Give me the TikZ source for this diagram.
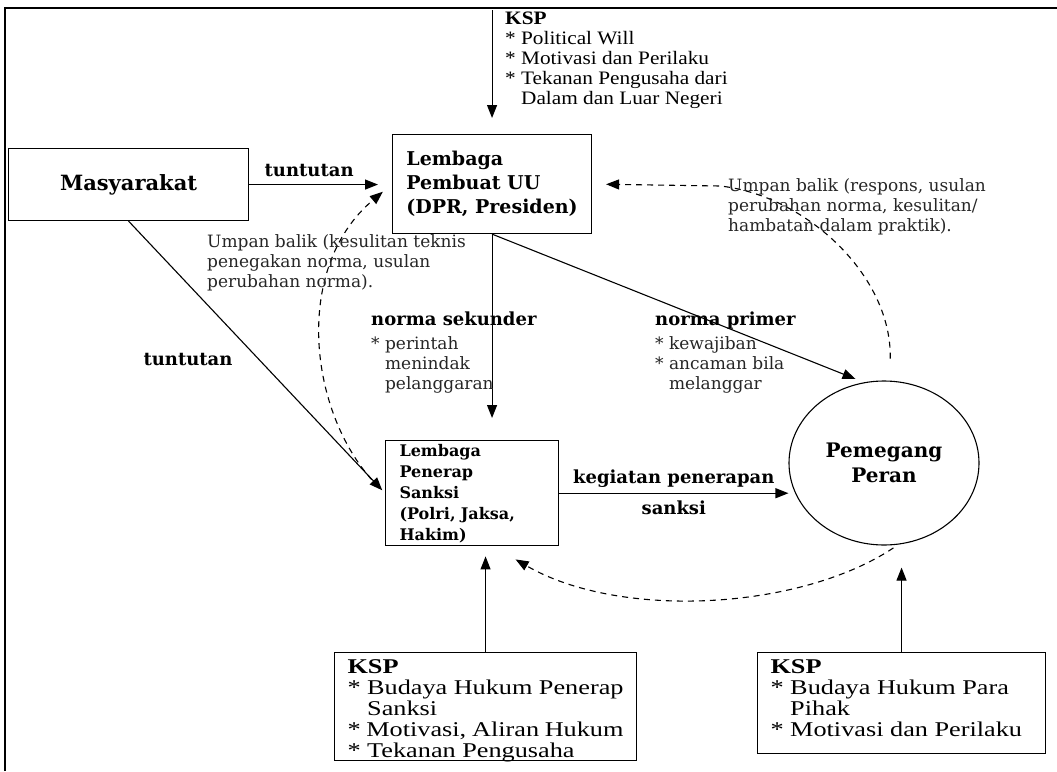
\documentclass[tikz,border=0pt]{standalone}
\usepackage{fontspec}
\setmainfont{Liberation Serif}[FakeStretch=1.12]
\newfontfamily\kotakfont{Liberation Serif}[FakeStretch=1.25]
\newfontfamily\labelfont{DejaVu Serif}
\usetikzlibrary{arrows.meta,calc,shapes.geometric}

\begin{document}
\begin{tikzpicture}[x=1pt,y=-1pt,
  kotak/.style={draw,line width=1.1pt},
  panah/.style={-{Triangle[length=13pt,width=10pt]},line width=1.1pt},
  balik/.style={-{Triangle[length=13pt,width=10pt]},line width=1.1pt,dash pattern=on 6pt off 5pt},
  judul/.style={font=\labelfont\bfseries\fontsize{18}{21}\selectfont,inner sep=0pt},
  ket/.style={font=\labelfont\fontsize{17}{20}\selectfont,align=left,inner sep=0pt,text=black!85},
  daftar/.style={font=\fontsize{19}{20}\selectfont,align=left,inner sep=0pt}]

\useasboundingbox (0,0) rectangle (1057,771);
% bingkai
\draw[line width=1.6pt] (5,771) -- (5,8) -- (1057,8);

% lembaga dan pihak
\node[kotak,minimum width=240pt,minimum height=72pt,anchor=north west,
  font=\labelfont\bfseries\fontsize{21}{24}\selectfont] (masyarakat) at (8,148) {Masyarakat};
\node[kotak,minimum width=199pt,minimum height=99pt,anchor=north west,align=left,
  font=\labelfont\bfseries\fontsize{19}{24}\selectfont] (pembuat) at (392,134) {Lembaga\\Pembuat UU\\(DPR, Presiden)};
\node[kotak,text width=145pt,inner xsep=14pt,minimum height=100pt,anchor=north west,align=left,
  font=\labelfont\bfseries\fontsize{16}{21}\selectfont] (penerap) at (385,440) {Lembaga\\Penerap\\Sanksi\\(Polri, Jaksa,\\Hakim)};
\node[draw,ellipse,line width=1.1pt,minimum width=190pt,minimum height=164pt,inner sep=0pt,align=center,
  font=\labelfont\bfseries\fontsize{20}{25}\selectfont] (pemegang) at (884,463) {Pemegang\\Peran};

% KSP
\node[daftar,anchor=north west] (ksppembuat) at (505,12) {\textbf{KSP}\\{*} Political Will\\{*} Motivasi dan Perilaku\\{*} Tekanan Pengusaha dari\\\phantom{* }Dalam dan Luar Negeri};
\node[kotak,anchor=north west,inner xsep=13pt,inner ysep=7pt] (ksppenerap) at (334,652) {%
  \begin{minipage}[t][94pt][t]{276pt}\kotakfont\fontsize{21}{21}\selectfont
  \textbf{KSP}\\{*} Budaya Hukum Penerap\\\phantom{* }Sanksi\\{*} Motivasi, Aliran Hukum\\{*} Tekanan Pengusaha
  \end{minipage}};
\node[kotak,anchor=north west,inner xsep=13pt,inner ysep=7pt] (ksppemegang) at (757,652) {%
  \begin{minipage}[t][87pt][t]{262pt}\kotakfont\fontsize{21}{21}\selectfont
  \textbf{KSP}\\{*} Budaya Hukum Para\\\phantom{* }Pihak\\{*} Motivasi dan Perilaku
  \end{minipage}};

% panah
\coordinate (atas) at (pembuat.north |- 0,10);
\draw[panah,shorten >=16pt] (atas) -- (pembuat.north);
\draw[panah,shorten >=14pt] (masyarakat.east) -- (masyarakat.east -| pembuat.west)
  node[judul,pos=.42,above=7pt] (tuntutanatas) {tuntutan};
\draw[panah,shorten >=4pt] (masyarakat.south) -- (penerap.west);
\node[judul] (tuntutanbawah) at (188,360) {tuntutan};
\draw[panah,shorten >=22pt] (pembuat.south) -- (pembuat.south |- penerap.north);
\draw[panah,shorten >=9pt] (pembuat.south) -- (pemegang.104);
\draw[panah] (penerap.east) -- (penerap.east -| pemegang.west)
  node[judul,midway,above=5pt] (kegiatan) {kegiatan penerapan}
  node[judul,midway,below=7pt] (sanksi) {sanksi};
\draw[panah,shorten >=10pt] (ksppenerap.north) -- (ksppenerap.north |- penerap.south);
\draw[panah,shorten >=22pt] (ksppemegang.north) -- (ksppemegang.north |- pemegang.south);

% label norma
\node[judul,anchor=north west] (sekunder) at (371,312) {norma sekunder};
\node[ket,anchor=north west] (isisekunder) at (371,336) {* perintah\\\phantom{* }menindak\\\phantom{* }pelanggaran};
\node[judul,anchor=north west] (primer) at (655,312) {norma primer};
\node[ket,anchor=north west] (isiprimer) at (655,336) {* kewajiban\\* ancaman bila\\\phantom{* }melanggar};

% umpan balik
\draw[balik,shorten <=22pt,shorten >=14pt] (pemegang.86) .. controls (892,275) and (805,195) .. (720,186) -- (pembuat.east);
\node[ket,anchor=north west] (umpankanan) at (728,178) {Umpan balik (respons, usulan\\perubahan norma, kesulitan/\\hambatan dalam praktik).};
\draw[balik,shorten <=8pt,shorten >=12pt] (penerap.west) .. controls (310,420) and (290,270) .. (pembuat.west);
\node[ket,anchor=north west] (umpankiri) at (207,234) {Umpan balik (kesulitan teknis\\penegakan norma, usulan\\perubahan norma).};
\draw[balik,shorten <=6pt] (pemegang.-80) .. controls (800,610) and (620,620) .. ($(penerap.south)!0.5!(penerap.south east)+(0,13)$);
\end{tikzpicture}
\end{document}
